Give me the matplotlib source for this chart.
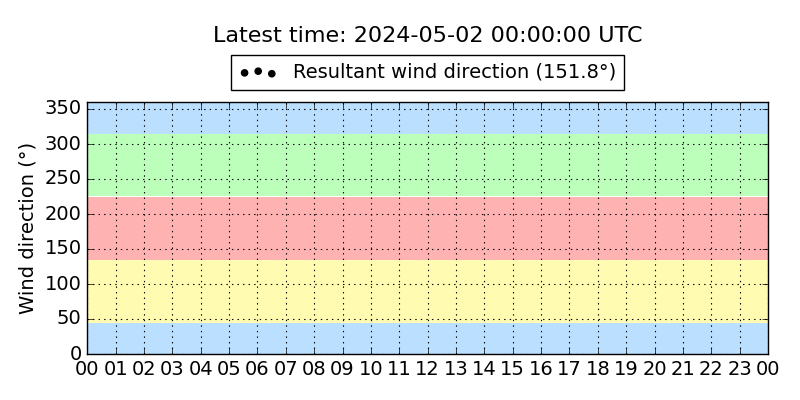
import matplotlib
matplotlib.use("Agg")
import matplotlib.pyplot as plt
import matplotlib.dates as mdates
import numpy as np
import pandas as pd

plt.style.use("classic")

# direction sectors (deg) and colours
band_edges = [0, 45, 135, 225, 315, 360]
band_colors = ["#bbdfff", "#fffbb0", "#ffb2b2", "#bbffbb", "#bbdfff"]

start = pd.Timestamp("2024-05-01 00:00")
end = pd.Timestamp("2024-05-02 00:00")
latest_dir = 151.8

# no plotted observations inside the window
times = pd.to_datetime([])
dirs = np.array([])

fig, ax = plt.subplots(figsize=(8, 4), dpi=100)
fig.patch.set_facecolor("white")

for lo, hi, c in zip(band_edges[:-1], band_edges[1:], band_colors):
    ax.axhspan(lo, hi, color=c, lw=0, zorder=0)

ax.scatter(times, dirs, s=20, c="k", label=f"Resultant wind direction ({latest_dir}°)")

ax.set_xlim(start, end)
ax.set_ylim(0, 360)
ax.set_yticks(range(0, 351, 50))
ax.xaxis.set_major_locator(mdates.HourLocator())
ax.xaxis.set_major_formatter(mdates.DateFormatter("%H"))
ax.tick_params(labelsize=14)
ax.grid(True, color="k", linestyle=":", linewidth=0.8)
ax.set_axisbelow(False)
ax.set_ylabel("Wind direction (°)", fontsize=14)
ax.set_title("Latest time: 2024-05-02 00:00:00 UTC", fontsize=16, y=1.21)
ax.legend(loc="lower center", bbox_to_anchor=(0.5, 1.01), fontsize=14,
          scatterpoints=3, numpoints=3, frameon=True)

fig.subplots_adjust(left=0.109, right=0.96, top=0.745, bottom=0.115)
fig.savefig("out.png", dpi=100)
